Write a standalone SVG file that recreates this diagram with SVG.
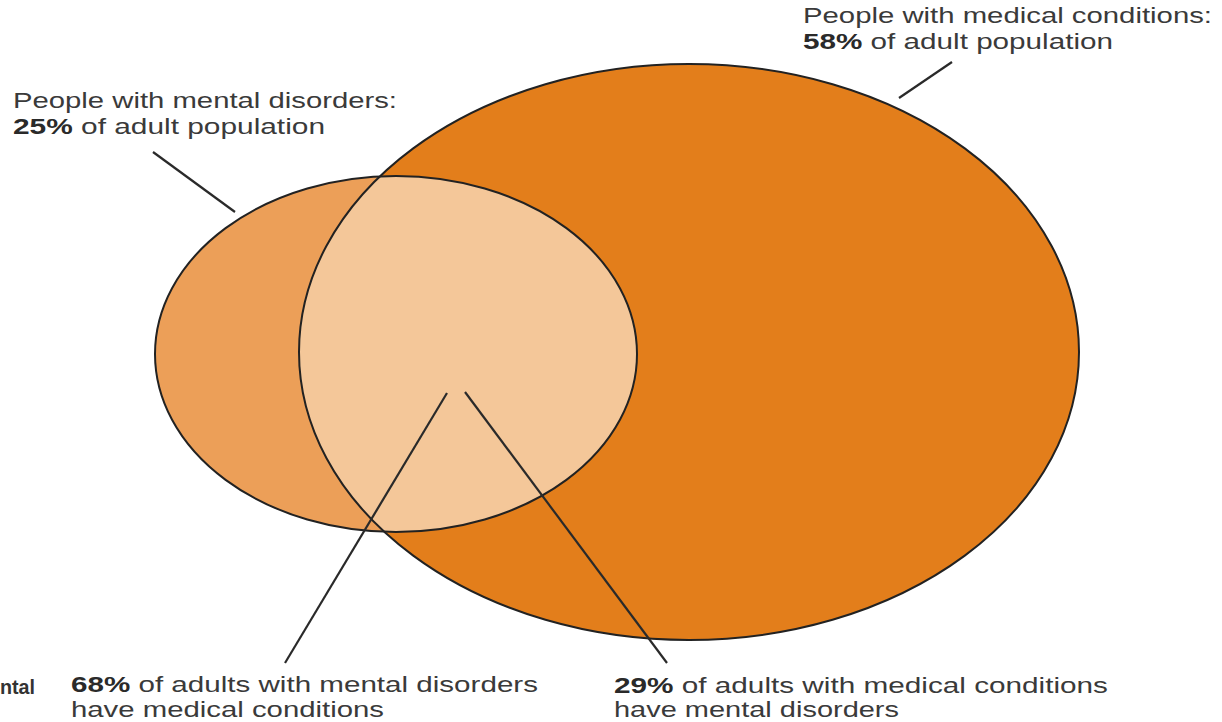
<svg xmlns="http://www.w3.org/2000/svg" width="1222" height="722" viewBox="0 0 1222 722">
<style>
.lbl{font-family:"Liberation Sans",Arial,sans-serif;font-size:21.5px;fill:#3a3a3a}
.b{font-weight:bold;fill:#2a2a2a}
.edge{fill:none;stroke:#222;stroke-width:2}
.lead{stroke:#2a2a2a;stroke-width:2.2;fill:none}
</style>
<defs>
<clipPath id="bigClip"><ellipse cx="689" cy="352" rx="390" ry="288"/></clipPath>
</defs>
<rect width="1222" height="722" fill="#fff"/>
<g id="medical">
<ellipse cx="689" cy="352" rx="390" ry="288" fill="#E37E1B"/>
</g>
<g id="mental">
<ellipse cx="396" cy="354" rx="241" ry="178" fill="#EC9F58"/>
</g>
<g id="overlap">
<ellipse cx="396" cy="354" rx="241" ry="178" fill="#F4C799" clip-path="url(#bigClip)"/>
</g>
<g id="outlines">
<ellipse class="edge" cx="689" cy="352" rx="390" ry="288"/>
<ellipse class="edge" cx="396" cy="354" rx="241" ry="178"/>
</g>
<g id="connectors">
<line class="lead" x1="153" y1="152" x2="235" y2="212"/>
<line class="lead" x1="952" y1="62" x2="899" y2="98"/>
<line class="lead" x1="447" y1="393" x2="285" y2="663"/>
<line class="lead" x1="465" y1="392" x2="667" y2="663"/>
</g>
<g id="label-mental">
<text class="lbl" x="13" y="108" textLength="384" lengthAdjust="spacingAndGlyphs">People with mental disorders:</text>
<text class="lbl" x="13" y="134" textLength="312" lengthAdjust="spacingAndGlyphs"><tspan class="b">25%</tspan> of adult population</text>
</g>
<g id="label-medical">
<text class="lbl" x="803" y="23" textLength="409" lengthAdjust="spacingAndGlyphs">People with medical conditions:</text>
<text class="lbl" x="803" y="49" textLength="310" lengthAdjust="spacingAndGlyphs"><tspan class="b">58%</tspan> of adult population</text>
</g>
<g id="label-68">
<text class="lbl" x="71" y="692" textLength="467" lengthAdjust="spacingAndGlyphs"><tspan class="b">68%</tspan> of adults with mental disorders</text>
<text class="lbl" x="71" y="717" textLength="313" lengthAdjust="spacingAndGlyphs">have medical conditions</text>
</g>
<g id="label-29">
<text class="lbl" x="614" y="693" textLength="494" lengthAdjust="spacingAndGlyphs"><tspan class="b">29%</tspan> of adults with medical conditions</text>
<text class="lbl" x="614" y="717" textLength="285" lengthAdjust="spacingAndGlyphs">have mental disorders</text>
</g>
<g id="fragment">
<text x="0" y="694" textLength="35" lengthAdjust="spacingAndGlyphs" style="font-family:'Liberation Sans',Arial,sans-serif;font-size:21px;font-weight:bold;fill:#333">ntal</text>
</g>
</svg>
